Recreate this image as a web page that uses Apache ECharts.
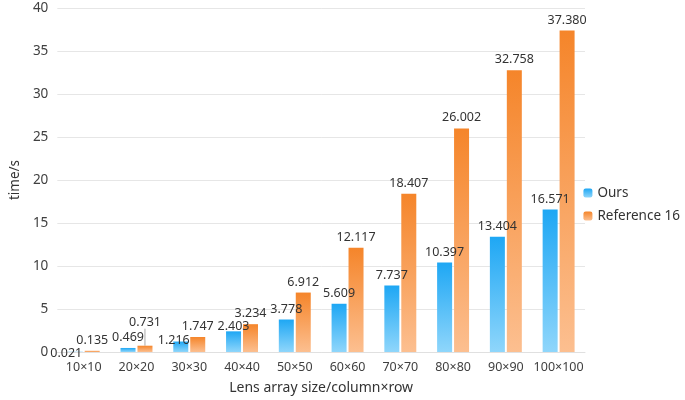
<!DOCTYPE html>
<html><head><meta charset="utf-8">
<script src="https://cdn.jsdelivr.net/npm/echarts@6/dist/echarts.min.js"></script>
<style>html,body{margin:0;padding:0;background:#fff}#c{width:685px;height:400px}</style>
</head><body><div id="c"></div>
<script>
var categories = ['10×10','20×20','30×30','40×40','50×50','60×60','70×70','80×80','90×90','100×100'];
var ours = [0.021,0.469,1.216,2.403,3.778,5.609,7.737,10.397,13.404,16.571];
var ref16 = [0.135,0.731,1.747,3.234,6.912,12.117,18.407,26.002,32.758,37.380];
var yTicks = [0,5,10,15,20,25,30,35,40];

var font = '"Noto Sans", "Open Sans", sans-serif';
var chart = echarts.init(document.getElementById('c'));
function grad(top, bottom){
  return new echarts.graphic.LinearGradient(0,0,0,1,[{offset:0,color:top},{offset:1,color:bottom}]);
}
var oursData = ours.map(function(v,i){
  var d = {value:v};
  if(i===0) d.label = {offset:[-9,12]};
  if(i===2) d.label = {offset:[-7,9]};
  if(i===3) d.label = {offset:[0,6]};
  return d;
});
var refData = ref16.map(function(v,i){
  var d = {value:v};
  if(i===0) d.label = {offset:[-3,3]};
  if(i===1) d.labelLine = {show:true,lineStyle:{color:'#aaa',width:1}};
  return d;
});
chart.setOption({
  animation:false,
  textStyle:{fontFamily:font},
  grid:{left:47,right:100,top:8,bottom:46.5},
  legend:{
    orient:'vertical', right:0, top:181, itemWidth:9, itemHeight:9, itemGap:9, itemTextGap:4,
    textStyle:{fontSize:13.5,color:'#333',fontFamily:font},
    data:['Ours','Reference 16']
  },
  xAxis:{
    type:'category', data:categories,
    name:'Lens array size/column×row', nameLocation:'middle', nameGap:29,
    nameTextStyle:{fontSize:14,color:'#333'},
    axisLine:{lineStyle:{color:'#e0e0e0'}}, axisTick:{show:false},
    axisLabel:{fontSize:12.5,color:'#404040',margin:9,interval:0}
  },
  yAxis:{
    type:'value', min:yTicks[0], max:yTicks[yTicks.length-1], interval:5,
    name:'time/s', nameLocation:'middle', nameGap:32,
    nameTextStyle:{fontSize:13.5,color:'#333'},
    axisLine:{show:false}, axisTick:{show:false},
    axisLabel:{fontSize:13.5,color:'#404040',margin:9},
    splitLine:{lineStyle:{color:'#e6e6e6'}}
  },
  series:[
    {name:'Ours', type:'bar', data:oursData, barWidth:15, barGap:'13%',
     itemStyle:{color:grad('#1ea7f4','#8fd6fb')},
     label:{show:true,position:'top',distance:4,fontSize:12.5,color:'#333',formatter:function(p){return p.value.toFixed(3);}}
    },
    {name:'Reference 16', type:'bar', data:refData, barWidth:15,
     itemStyle:{color:grad('#f5852a','#fcbf90')},
     label:{show:true,position:'top',distance:4,fontSize:12.5,color:'#333',formatter:function(p){return p.value.toFixed(3);}},
     labelLine:{show:false},
     labelLayout:function(p){ if(p.dataIndex===1) return {dy:-13}; return {}; }
    }
  ]
});
</script></body></html>
